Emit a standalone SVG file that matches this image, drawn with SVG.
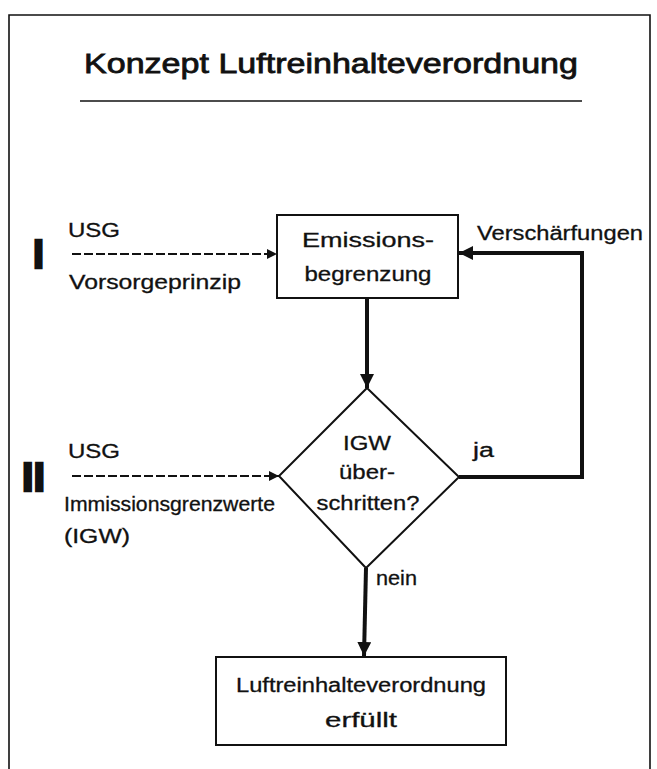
<svg xmlns="http://www.w3.org/2000/svg" width="657" height="769" viewBox="0 0 657 769">
<style>
text{font-family:"Liberation Sans",Arial,sans-serif;fill:#111}
.t{font-size:20px;stroke:#111;stroke-width:0.3}
.c{text-anchor:middle}
.box{fill:#fff;stroke:#111;stroke-width:2}
.thick{fill:none;stroke:#111;stroke-width:4}
.dash{fill:none;stroke:#111;stroke-width:2.2;stroke-dasharray:9 3}
.frame{fill:none;stroke:#111;stroke-width:1.6}
.roman{font-size:40px;font-weight:bold;stroke:#111;stroke-width:2.5}
</style>
<defs>
<marker id="ah" viewBox="0 0 10 10" refX="10" refY="5" markerWidth="10" markerHeight="10" markerUnits="userSpaceOnUse" orient="auto">
<path d="M0,0 L10,5 L0,10 z" fill="#111"/>
</marker>
<marker id="ahb" viewBox="0 0 10 10" refX="10" refY="5" markerWidth="3.5" markerHeight="3.5" orient="auto">
<path d="M0,0 L10,5 L0,10 z" fill="#111"/>
</marker>
</defs>
<g id="frame">
<path class="frame" d="M9,769 L9,15 L650,15 L650,769"/>
</g>
<g id="title">
<text x="331" y="73" class="c" style="font-size:28px;stroke:#111;stroke-width:0.8" textLength="494" lengthAdjust="spacingAndGlyphs">Konzept Luftreinhalteverordnung</text>
<line x1="80" y1="101" x2="582" y2="101" stroke="#111" stroke-width="1.6"/>
</g>
<g id="connectors">
<line class="dash" x1="72" y1="254" x2="277" y2="254" marker-end="url(#ah)"/>
<line class="dash" x1="72" y1="476" x2="279" y2="476" marker-end="url(#ah)"/>
<line class="thick" x1="367" y1="298" x2="367" y2="388" marker-end="url(#ahb)"/>
<polyline class="thick" points="459,477 582,477 582,253 459,253" marker-end="url(#ahb)"/>
<line class="thick" x1="366" y1="568" x2="364" y2="656" marker-end="url(#ahb)"/>
</g>
<g id="label-I">
<text x="33" y="268" class="roman" textLength="11" lengthAdjust="spacingAndGlyphs">I</text>
<text x="68" y="237" class="t" textLength="52" lengthAdjust="spacingAndGlyphs">USG</text>
<text x="69" y="289" class="t" textLength="172" lengthAdjust="spacingAndGlyphs">Vorsorgeprinzip</text>
</g>
<g id="label-II">
<text x="22" y="491" class="roman" textLength="23" lengthAdjust="spacingAndGlyphs">II</text>
<text x="68" y="458" class="t" textLength="52" lengthAdjust="spacingAndGlyphs">USG</text>
<text x="64" y="511" class="t" textLength="211" lengthAdjust="spacingAndGlyphs">Immissionsgrenzwerte</text>
<text x="64" y="543" class="t" textLength="66" lengthAdjust="spacingAndGlyphs">(IGW)</text>
</g>
<g id="emission">
<rect class="box" x="277" y="215" width="181" height="83"/>
<text x="368" y="247" class="t c" textLength="132" lengthAdjust="spacingAndGlyphs">Emissions-</text>
<text x="368" y="281" class="t c" textLength="127" lengthAdjust="spacingAndGlyphs">begrenzung</text>
</g>
<g id="decision">
<polygon class="box" points="367,388 459,477 366,568 279,476"/>
<text x="367" y="450" class="t c" textLength="48" lengthAdjust="spacingAndGlyphs">IGW</text>
<text x="367" y="479" class="t c" textLength="56" lengthAdjust="spacingAndGlyphs">über-</text>
<text x="368" y="510" class="t c" textLength="103" lengthAdjust="spacingAndGlyphs">schritten?</text>
</g>
<g id="labels">
<text x="477" y="240" class="t" textLength="166" lengthAdjust="spacingAndGlyphs">Verschärfungen</text>
<text x="473" y="457" class="t" textLength="21" lengthAdjust="spacingAndGlyphs">ja</text>
<text x="376" y="585" class="t" textLength="41" lengthAdjust="spacingAndGlyphs">nein</text>
</g>
<g id="result">
<rect class="box" x="216" y="657" width="290" height="88"/>
<text x="361" y="692" class="t c" textLength="250" lengthAdjust="spacingAndGlyphs">Luftreinhalteverordnung</text>
<text x="361" y="727" class="t c" textLength="72" lengthAdjust="spacingAndGlyphs">erfüllt</text>
</g>
</svg>
